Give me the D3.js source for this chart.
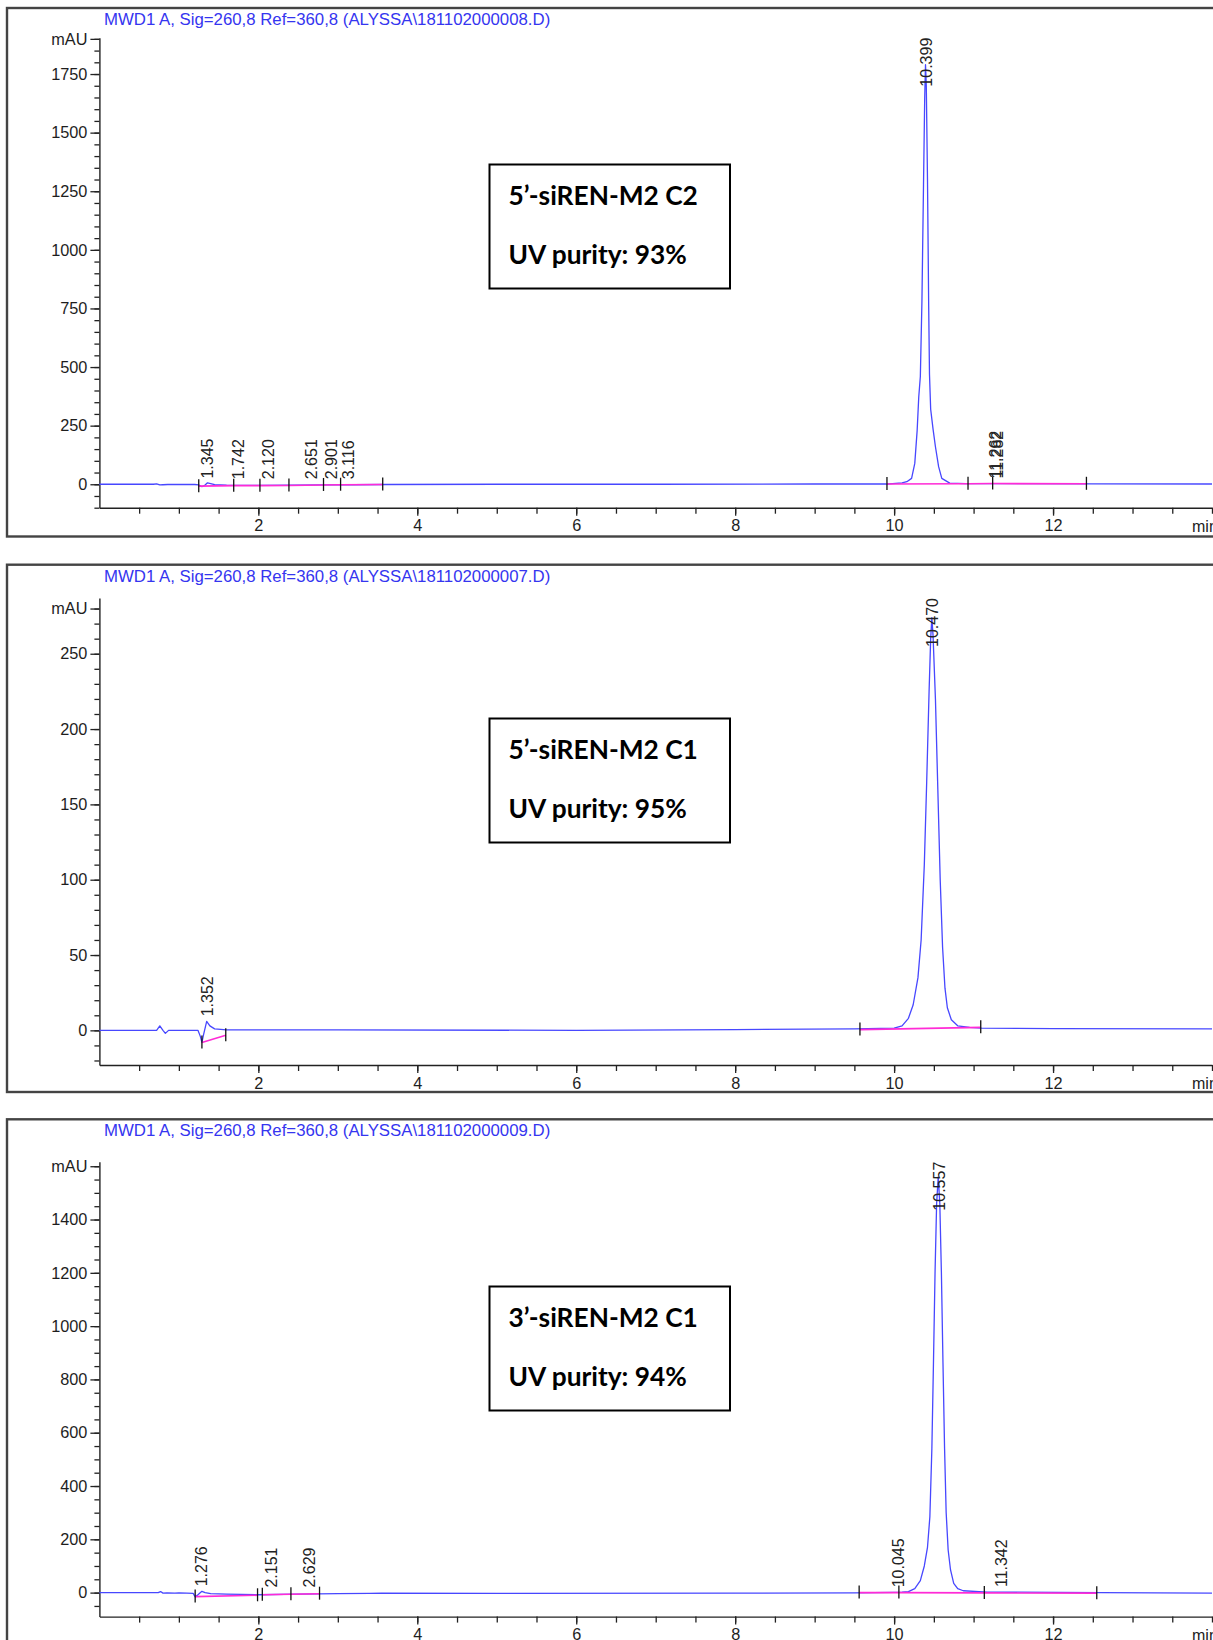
<!DOCTYPE html>
<html>
<head>
<meta charset="utf-8">
<script src="https://cdn.jsdelivr.net/npm/d3@7"></script>
<style>
  body { margin: 0; background: #fff; }
  svg { display: block; }
</style>
</head>
<body>
<svg id="chart" width="1213" height="1640"></svg>
<script>
// ---- data ----
var xLabels = [2, 4, 6, 8, 10, 12]
var xDomain = [0, 14]

// panel 1 : 5'-siREN-M2 C2
var p1Title = 'MWD1 A, Sig=260,8 Ref=360,8 (ALYSSA\\181102000008.D)'
var p1Box = ['5\u2019-siREN-M2 C2', 'UV purity: 93%']
var p1YDomain = [-100, 1905]
var p1YLabels = [0, 250, 500, 750, 1000, 1250, 1500, 1750]
var p1YTop = 1900
var p1Trace = [[0, 0], [0.68, 0], [0.72, 2], [0.76, -3], [0.80, -2], [0.86, -1], [1.20, -1], [1.25, -3],
  [1.29, -10], [1.32, -6], [1.36, 6], [1.40, 3], [1.45, -2], [1.6, -4], [2.0, -5], [2.4, -4], [2.8, -3],
  [3.2, -2], [3.6, -1], [5, 0], [7, 0], [9, 1], [9.9, 1], [10.10, 6], [10.16, 11], [10.22, 25], [10.26, 89],
  [10.29, 230], [10.31, 372], [10.33, 460], [10.35, 780], [10.37, 1280], [10.385, 1650], [10.395, 1790],
  [10.405, 1700], [10.42, 1300], [10.435, 760], [10.445, 470], [10.46, 320], [10.49, 235], [10.52, 160],
  [10.56, 75], [10.60, 25], [10.70, 5], [10.9, 3], [11.3, 3], [12.5, 2], [14, 1]]
var p1Baselines = [
  [[1.25, -8], [1.69, -6], [2.02, -6], [2.385, -5], [2.82, -3], [3.035, -2], [3.565, -1]],
  [[9.91, 1], [10.93, 2], [11.24, 3], [12.42, 2]]
]
var p1Events = [[1.25, -8], [1.69, -6], [2.02, -6], [2.385, -5], [2.82, -3], [3.035, -2], [3.565, -1],
  [9.91, 1], [10.93, 2], [11.24, 3], [12.42, 2]]
var p1Peaks = [['1.345', 3], ['1.742', -4], ['2.120', -5], ['2.651', -3], ['2.901', -2], ['3.116', -2],
  ['10.399', 1790], ['11.262', 3], ['11.282', 3]]

// panel 2 : 5'-siREN-M2 C1
var p2Title = 'MWD1 A, Sig=260,8 Ref=360,8 (ALYSSA\\181102000007.D)'
var p2Box = ['5\u2019-siREN-M2 C1', 'UV purity: 95%']
var p2YDomain = [-23, 287]
var p2YLabels = [0, 50, 100, 150, 200, 250]
var p2YTop = 280
var p2Trace = [[0, 0], [0.72, 0], [0.76, 3], [0.80, 0], [0.83, -2], [0.87, 0], [1.24, 0], [1.27, -4],
  [1.29, -8], [1.31, -3], [1.35, 6], [1.39, 3], [1.45, 1], [1.6, 0.3], [3, 0.3], [6, 0], [8, 0.5],
  [9.5, 1], [10.0, 1.5], [10.10, 3], [10.18, 8], [10.24, 17], [10.30, 35], [10.34, 60], [10.38, 110],
  [10.41, 165], [10.44, 225], [10.46, 260], [10.475, 274], [10.49, 262], [10.52, 220], [10.55, 160],
  [10.58, 100], [10.61, 55], [10.64, 28], [10.67, 15], [10.72, 7], [10.80, 3], [10.95, 2], [11.1, 1.5],
  [12, 1.2], [14, 1]]
var p2Baselines = [
  [[1.29, -8], [1.59, -3.3]],
  [[9.57, 0.5], [11.09, 2]]
]
var p2Events = [[1.29, -8], [1.59, -3.3], [9.57, 0.5], [11.09, 2]]
var p2Peaks = [['1.352', 6], ['10.470', 274]]

// panel 3 : 3'-siREN-M2 C1
var p3Title = 'MWD1 A, Sig=260,8 Ref=360,8 (ALYSSA\\181102000009.D)'
var p3Box = ['3\u2019-siREN-M2 C1', 'UV purity: 94%']
var p3YDomain = [-90, 1617]
var p3YLabels = [0, 200, 400, 600, 800, 1000, 1200, 1400]
var p3YTop = 1600
var p3Trace = [[0, 0], [0.74, 0], [0.77, 4], [0.80, -2], [0.85, -1], [0.95, -2], [1.0, -1], [1.1, -2],
  [1.18, -3], [1.205, -16], [1.24, -8], [1.29, 5], [1.33, 0], [1.4, -4], [1.6, -6], [2.0, -8], [2.5, -6],
  [3.0, -4], [3.4, -3], [3.55, -2], [5, -3], [8, -2], [9.5, -1], [10.0, 1], [10.1, 2], [10.18, 4],
  [10.26, 15], [10.33, 45], [10.38, 100], [10.42, 170], [10.45, 285], [10.475, 540], [10.495, 860],
  [10.515, 1200], [10.535, 1460], [10.555, 1560], [10.575, 1460], [10.595, 1200], [10.615, 860],
  [10.635, 540], [10.655, 300], [10.68, 160], [10.71, 85], [10.75, 35], [10.80, 15], [10.87, 7],
  [11.17, 2], [12.6, 0], [14, -2]]
var p3Baselines = [
  [[1.205, -15], [1.99, -10]],
  [[2.05, -8], [2.41, -6], [2.77, -4]],
  [[9.56, 0], [10.06, 0], [11.135, -1], [12.55, -2]]
]
var p3Events = [[1.205, -15], [1.99, -10], [2.05, -8], [2.41, -6], [2.77, -4], [9.56, 0], [10.06, 0],
  [11.135, -1], [12.55, -2]]
var p3Peaks = [['1.276', 5], ['2.151', -7], ['2.629', -5], ['10.045', 1], ['10.557', 1560], ['11.342', 2]]

// ---- layout (pixels) ----
var panels = [
  {title: p1Title, box: p1Box, yDomain: p1YDomain, yLabels: p1YLabels, yTop: p1YTop, minor: 50,
   trace: p1Trace, baselines: p1Baselines, events: p1Events, peaks: p1Peaks,
   frameTop: 8, frameBottom: 536.5, yRange: [507.7, 37.7], boxY: 164.5},
  {title: p2Title, box: p2Box, yDomain: p2YDomain, yLabels: p2YLabels, yTop: p2YTop, minor: 10,
   trace: p2Trace, baselines: p2Baselines, events: p2Events, peaks: p2Peaks,
   frameTop: 564.7, frameBottom: 1092, yRange: [1065, 598], boxY: 718.5},
  {title: p3Title, box: p3Box, yDomain: p3YDomain, yLabels: p3YLabels, yTop: p3YTop, minor: 50,
   trace: p3Trace, baselines: p3Baselines, events: p3Events, peaks: p3Peaks,
   frameTop: 1119.3, frameBottom: 1700, yRange: [1616.6, 1161.7], boxY: 1286.5}
]

var FONT = '"Liberation Sans", Arial, sans-serif'
var BOXFONT = 'Lato, "Open Sans", sans-serif'
var svg = d3.select('#chart')
svg.append('rect').attr('width', 1213).attr('height', 1640).attr('fill', '#fff')

var x = d3.scaleLinear().domain(xDomain).range([99.4, 1212])

panels.forEach(function (p) {
  var g = svg.append('g')
  var y = d3.scaleLinear().domain(p.yDomain).range(p.yRange)
  var yBottom = p.yRange[0]

  // frame (right side runs off the page)
  g.append('rect')
    .attr('x', 7).attr('y', p.frameTop)
    .attr('width', 1300).attr('height', p.frameBottom - p.frameTop)
    .attr('fill', 'none').attr('stroke', '#444').attr('stroke-width', 2.4)

  // signal title
  g.append('text')
    .attr('x', 104).attr('y', p.frameTop + 17)
    .attr('font-family', FONT).attr('font-size', 16.8)
    .attr('fill', '#3535f0')
    .text(p.title)

  // y axis: minor ticks then labelled ticks
  var minorVals = d3.range(Math.ceil(p.yDomain[0] / p.minor) * p.minor, p.yTop + 0.1, p.minor)
  g.append('g')
    .attr('transform', 'translate(' + x(0) + ',0)')
    .call(d3.axisLeft(y).tickValues(minorVals).tickSize(5).tickSizeOuter(0).tickFormat(''))
  var yAx = g.append('g')
    .attr('transform', 'translate(' + x(0) + ',0)')
    .call(d3.axisLeft(y).tickValues(p.yLabels.concat([p.yTop])).tickSize(9).tickSizeOuter(0)
      .tickFormat(function (d) { return d === p.yTop ? 'mAU' : d }))
  yAx.select('.domain').remove()

  // x axis
  var xMinor = d3.range(0.5, 14.01, 0.5)
  g.append('g')
    .attr('transform', 'translate(0,' + yBottom + ')')
    .call(d3.axisBottom(x).tickValues(xMinor).tickSize(6).tickSizeOuter(0).tickFormat(''))
  var xAx = g.append('g')
    .attr('transform', 'translate(0,' + yBottom + ')')
    .call(d3.axisBottom(x).tickValues(xLabels).tickSize(8).tickSizeOuter(0))
  xAx.select('.domain').remove()
  g.append('text')
    .attr('x', x(14) - 20).attr('y', yBottom + 24)
    .attr('font-family', FONT).attr('font-size', 16).attr('fill', '#222')
    .text('min')

  g.selectAll('.domain').attr('stroke', '#222').attr('stroke-width', 1.4)
  g.selectAll('.tick line').attr('stroke', '#222').attr('stroke-width', 1.3)
  g.selectAll('.tick text').attr('font-family', FONT).attr('font-size', 16.3).attr('fill', '#1e1e1e')
  yAx.selectAll('.tick text').attr('x', -12)
  xAx.selectAll('.tick text').attr('y', 12)

  // chromatogram trace
  var line = d3.line().x(function (d) { return x(d[0]) }).y(function (d) { return y(d[1]) })
  g.append('path')
    .datum(p.trace)
    .attr('d', line)
    .attr('fill', 'none').attr('stroke', '#4747ff').attr('stroke-width', 1.3)
    .attr('stroke-linejoin', 'round')

  // integration baselines
  p.baselines.forEach(function (b) {
    g.append('path')
      .datum(b)
      .attr('d', line)
      .attr('fill', 'none').attr('stroke', '#ff2bd6').attr('stroke-width', 1.6)
  })

  // integration event marks
  g.selectAll('.event')
    .data(p.events)
    .enter().append('line')
    .attr('x1', function (d) { return x(d[0]) })
    .attr('x2', function (d) { return x(d[0]) })
    .attr('y1', function (d) { return y(d[1]) - 7 })
    .attr('y2', function (d) { return y(d[1]) + 6 })
    .attr('stroke', '#111').attr('stroke-width', 1.3)

  // retention time labels, pushed down if they would run over the top
  var yTopPx = p.yRange[1]
  p.peaks.forEach(function (pk) {
    var t = g.append('text')
      .attr('font-family', FONT).attr('font-size', 16).attr('fill', '#222')
      .attr('dy', '0.35em')
      .text(pk[0])
    var len = t.node().getComputedTextLength()
    var y0 = y(Math.max(pk[1], 0)) - 5
    if (y0 - len < yTopPx) y0 = yTopPx + len
    t.attr('transform', 'translate(' + (x(+pk[0]) + 1) + ',' + y0 + ') rotate(-90)')
  })

  // sample annotation box
  var bx = 489.5
  g.append('rect')
    .attr('x', bx).attr('y', p.boxY).attr('width', 240.5).attr('height', 124)
    .attr('fill', '#fff').attr('stroke', '#000').attr('stroke-width', 2)
  g.append('text')
    .attr('x', bx + 19).attr('y', p.boxY + 40)
    .attr('font-family', BOXFONT).attr('font-weight', 'bold')
    .attr('font-size', 26.3).attr('fill', '#000')
    .text(p.box[0])
  g.append('text')
    .attr('x', bx + 19).attr('y', p.boxY + 99)
    .attr('font-family', BOXFONT).attr('font-weight', 'bold')
    .attr('font-size', 26.3).attr('fill', '#000')
    .text(p.box[1])
})
</script>
</body>
</html>
